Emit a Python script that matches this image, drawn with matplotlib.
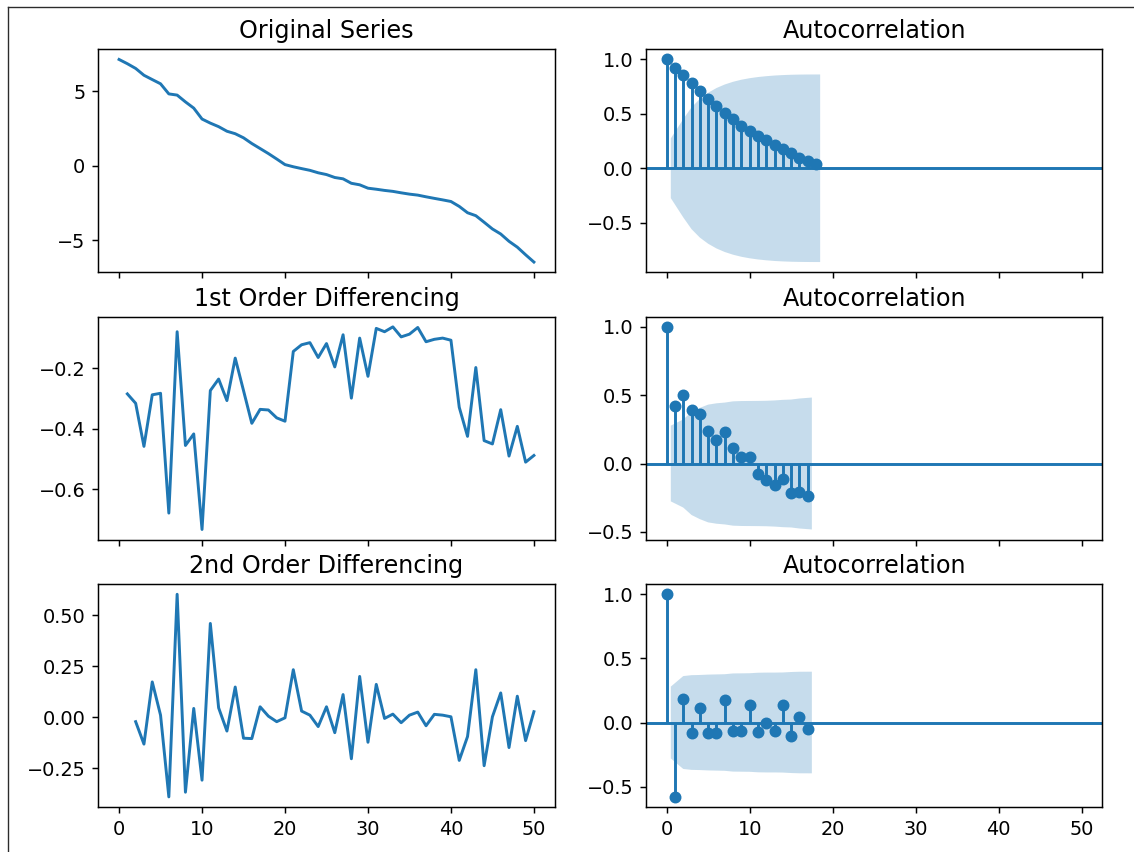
import numpy as np
import matplotlib
matplotlib.use("Agg")
import matplotlib.pyplot as plt
from matplotlib.lines import Line2D

# ---- data -------------------------------------------------------------
series_level = [
    7.130, 6.845, 6.529, 6.071, 5.783, 5.500, 4.822, 4.742, 4.287, 3.870,
    3.138, 2.864, 2.628, 2.321, 2.154, 1.880, 1.498, 1.162, 0.824, 0.460,
    0.085, -0.060, -0.183, -0.299, -0.464, -0.583, -0.779, -0.869, -1.168, -1.269,
    -1.496, -1.565, -1.645, -1.709, -1.806, -1.894, -1.960, -2.073, -2.178, -2.279,
    -2.387, -2.716, -3.141, -3.339, -3.778, -4.228, -4.565, -5.055, -5.447, -5.957,
    -6.445,
]

# first differences, observations 1..50
diff_1st = [
    -0.285, -0.316, -0.458, -0.288, -0.283, -0.678, -0.080, -0.455, -0.417, -0.732,
    -0.274, -0.236, -0.307, -0.167, -0.274, -0.382, -0.336, -0.338, -0.364, -0.375,
    -0.145, -0.123, -0.116, -0.165, -0.119, -0.196, -0.090, -0.299, -0.101, -0.227,
    -0.069, -0.080, -0.064, -0.097, -0.088, -0.066, -0.113, -0.105, -0.101, -0.108,
    -0.329, -0.425, -0.198, -0.439, -0.450, -0.337, -0.490, -0.392, -0.510, -0.488,
]

# second differences, observations 2..50
diff_2nd = [
    -0.021, -0.131, 0.174, 0.011, -0.390, 0.604, -0.367, 0.044, -0.308,
    0.461, 0.047, -0.067, 0.149, -0.102, -0.104, 0.052, 0.006, -0.021, -0.002,
    0.234, 0.031, 0.011, -0.045, 0.052, -0.075, 0.112, -0.203, 0.201, -0.122,
    0.162, -0.005, 0.016, -0.026, 0.011, 0.026, -0.041, 0.015, 0.011, 0.003,
    -0.211, -0.094, 0.234, -0.237, 0.003, 0.120, -0.148, 0.104, -0.114, 0.028,
]

# autocorrelations (lag 0 upward)
acf_level = [1.0, 0.924, 0.853, 0.784, 0.707, 0.641, 0.572, 0.508, 0.450, 0.391,
             0.343, 0.297, 0.263, 0.216, 0.180, 0.140, 0.097, 0.068, 0.037]
acf_1st = [1.0, 0.420, 0.498, 0.393, 0.360, 0.235, 0.175, 0.230, 0.117, 0.051,
           0.051, -0.078, -0.122, -0.160, -0.117, -0.216, -0.209, -0.236]
acf_2nd = [1.0, -0.580, 0.183, -0.084, 0.117, -0.084, -0.084, 0.172, -0.063, -0.063,
           0.138, -0.076, 0.000, -0.070, 0.133, -0.102, 0.042, -0.052]

x_ticks = [0, 10, 20, 30, 40, 50]
yticks_level = [-5, 0, 5]
yticks_1st = [-0.6, -0.4, -0.2]
yticks_2nd = [-0.25, 0.00, 0.25, 0.50]
yticks_acf = [[-0.5, 0.0, 0.5, 1.0], [-0.5, 0.0, 0.5, 1.0], [-0.5, 0.0, 0.5, 1.0]]

titles_left = ["Original Series", "1st Order Differencing", "2nd Order Differencing"]

plt.rcParams.update({
    "axes.titlesize": 13,
    "xtick.labelsize": 10.5,
    "ytick.labelsize": 10.5,
    "lines.linewidth": 1.6,
})


def bartlett_halfwidth(acf, nobs):
    acf = np.asarray(acf, dtype=float)
    var = np.ones(len(acf)) / nobs
    var[0] = 0.0
    var[2:] *= 1 + 2 * np.cumsum(acf[1:-1] ** 2)
    return 1.96 * np.sqrt(var)


def draw_acf(ax, acf, nobs):
    acf = np.asarray(acf, dtype=float)
    lags = np.arange(len(acf))
    ax.vlines(lags, [0], acf)
    ax.axhline(0)
    ax.margins(0.05)
    ax.plot(lags, acf, marker="o", markersize=5.5, linestyle="None")
    ax.set_title("Autocorrelation")
    half = bartlett_halfwidth(acf, nobs)[1:]
    band_x = lags[1:].astype(float)
    band_x[0] -= 0.5
    band_x[-1] += 0.5
    ax.fill_between(band_x, -half, half, alpha=0.25)


# ---- figure -----------------------------------------------------------
DPI = 132
fig, axes = plt.subplots(3, 2, sharex=True, figsize=(1134 / DPI, 852 / DPI), dpi=DPI)
fig.subplots_adjust(left=0.0867, right=0.972, top=0.9421, bottom=0.0528,
                    wspace=0.2, hspace=0.2)

t_level = np.arange(len(series_level))
t_1st = np.arange(1, len(diff_1st) + 1)
t_2nd = np.arange(2, len(diff_2nd) + 2)

axes[0, 0].plot(t_level, series_level)
axes[1, 0].plot(t_1st, diff_1st)
axes[2, 0].plot(t_2nd, diff_2nd)
for ax, title in zip(axes[:, 0], titles_left):
    ax.set_title(title)

axes[0, 0].set_yticks(yticks_level)
axes[1, 0].set_yticks(yticks_1st)
axes[2, 0].set_yticks(yticks_2nd)

draw_acf(axes[0, 1], acf_level, len(series_level))
draw_acf(axes[1, 1], acf_1st, len(diff_1st))
draw_acf(axes[2, 1], acf_2nd, len(diff_2nd))
for ax, ticks in zip(axes[:, 1], yticks_acf):
    ax.set_yticks(ticks)

axes[0, 0].set_xticks(x_ticks)
axes[0, 0].set_xlim(-2.5, 52.5)

# thin outer frame along the top and left edges
frame_kw = dict(transform=fig.transFigure, color="#2b2b2b", linewidth=0.75)
fig.add_artist(Line2D([7.5 / 1134, 1.0], [1 - 6.5 / 852, 1 - 6.5 / 852], **frame_kw))
fig.add_artist(Line2D([7.5 / 1134, 7.5 / 1134], [0.0, 1 - 6.5 / 852], **frame_kw))

fig.savefig("out.png", dpi=DPI)
